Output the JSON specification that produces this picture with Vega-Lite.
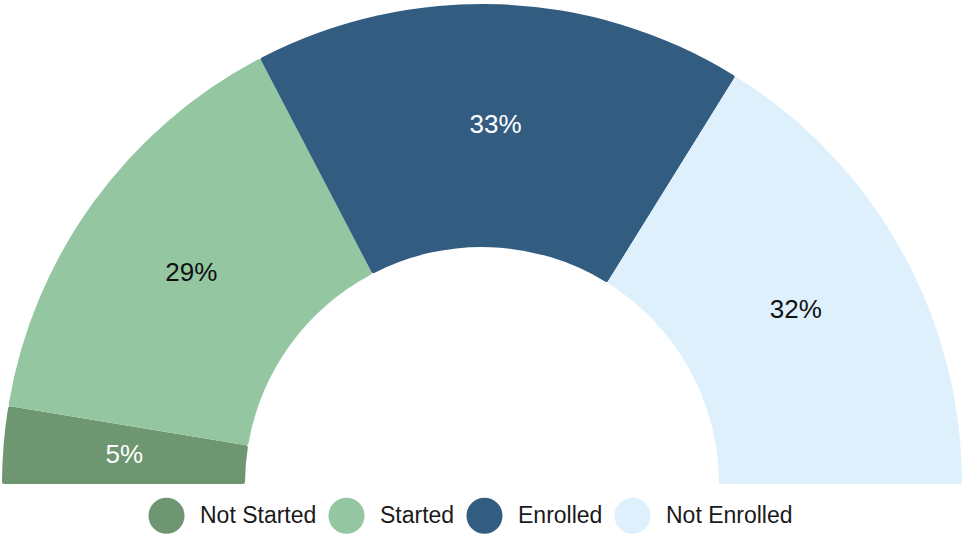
{
  "$schema": "https://vega.github.io/schema/vega-lite/v6.json",
  "width": 962,
  "height": 484,
  "padding": {"left": 1, "right": 1, "top": 0, "bottom": 0},
  "background": "white",
  "data": {
    "values": [
      {"status": "Not Started", "rank": 1, "share": 5.2, "label": "5%"},
      {"status": "Started", "rank": 2, "share": 29.5, "label": "29%"},
      {"status": "Enrolled", "rank": 3, "share": 33.0, "label": "33%"},
      {"status": "Not Enrolled", "rank": 4, "share": 32.3, "label": "32%"}
    ]
  },
  "encoding": {
    "theta": {"field": "share", "type": "quantitative", "stack": true, "scale": {"range": [-1.5707963, 1.5707963]}},
    "order": {"field": "rank", "type": "quantitative"}
  },
  "layer": [
    {
      "mark": {"type": "arc", "x": {"expr": "width/2"}, "y": {"expr": "height"}, "outerRadius": 480, "innerRadius": 237, "cornerRadius": 2},
      "encoding": {
        "color": {
          "field": "status",
          "type": "nominal",
          "sort": ["Not Started", "Started", "Enrolled", "Not Enrolled"],
          "scale": {"domain": ["Not Started", "Started", "Enrolled", "Not Enrolled"], "range": ["#6e9670", "#93c6a1", "#325d80", "#dff0fd"]},
          "legend": {
            "title": null,
            "orient": "none",
            "legendX": 147,
            "legendY": 497,
            "direction": "horizontal",
            "symbolType": "circle",
            "symbolSize": 1300,
            "symbolStrokeWidth": 0,
            "labelFont": "Liberation Sans",
            "labelFontSize": 23,
            "labelColor": "#1a1a1a",
            "labelOffset": 15,
            "columnPadding": 11,
            "labelLimit": 300
          }
        }
      }
    },
    {
      "mark": {"type": "text", "x": {"expr": "width/2"}, "y": {"expr": "height"}, "radius": 359, "font": "Liberation Sans", "fontSize": 26},
      "encoding": {
        "text": {"field": "label", "type": "nominal"},
        "color": {
          "condition": {"test": "datum.status === 'Not Started' || datum.status === 'Enrolled'", "value": "#ffffff"},
          "value": "#111111"
        }
      }
    }
  ],
  "config": {"view": {"stroke": null}}
}
